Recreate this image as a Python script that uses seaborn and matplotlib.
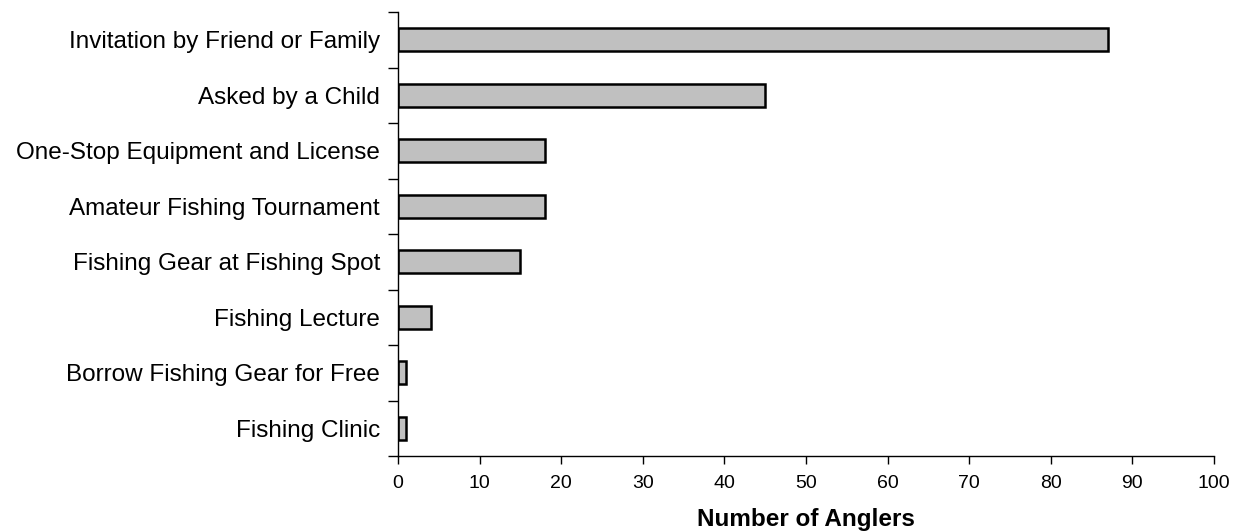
import numpy as np
import pandas as pd
import matplotlib
matplotlib.use("Agg")
import matplotlib.pyplot as plt
import seaborn as sns

# data
categories = [
    "Invitation by Friend or Family",
    "Asked by a Child",
    "One-Stop Equipment and License",
    "Amateur Fishing Tournament",
    "Fishing Gear at Fishing Spot",
    "Fishing Lecture",
    "Borrow Fishing Gear for Free",
    "Fishing Clinic",
]
anglers = [87, 45, 18, 18, 15, 4, 1, 1]
x_ticks = list(range(0, 101, 10))

df = pd.DataFrame({"category": categories, "anglers": anglers})

sns.set_theme(style="white")
plt.rcParams["font.family"] = ["Liberation Sans", "DejaVu Sans"]
plt.rcParams["text.color"] = "black"
plt.rcParams["axes.labelcolor"] = "black"
plt.rcParams["xtick.color"] = "black"
plt.rcParams["ytick.color"] = "black"

fig = plt.figure(figsize=(12.39, 5.31), dpi=100)
ax = fig.add_axes([398 / 1239, 1 - 456 / 531, (1214 - 398) / 1239, (456 - 12) / 531])

sns.barplot(data=df, x="anglers", y="category", orient="h", color="#C0C0C0",
            edgecolor="black", linewidth=1.8, width=0.42, saturation=1, ax=ax)

ax.set_xlim(0, 100)
ax.set_ylim(len(categories) - 0.5, -0.5)
ax.set_xticks(x_ticks)
ax.tick_params(axis="x", labelsize=14, length=6, width=1, color="black", direction="out",
               bottom=True, pad=8)
ax.tick_params(axis="y", which="major", labelsize=17.5, length=0, pad=13)
ax.set_yticks(np.arange(-0.5, len(categories), 1), minor=True)
ax.tick_params(axis="y", which="minor", length=7, width=1, color="black", left=True)

for side in ["top", "right"]:
    ax.spines[side].set_visible(False)
for side in ["left", "bottom"]:
    ax.spines[side].set_color("black")
    ax.spines[side].set_linewidth(1)

ax.set_ylabel("")
ax.set_xlabel("Number of Anglers", fontsize=17.5, fontweight="bold", labelpad=11)

fig.savefig("out.png", dpi=100)
